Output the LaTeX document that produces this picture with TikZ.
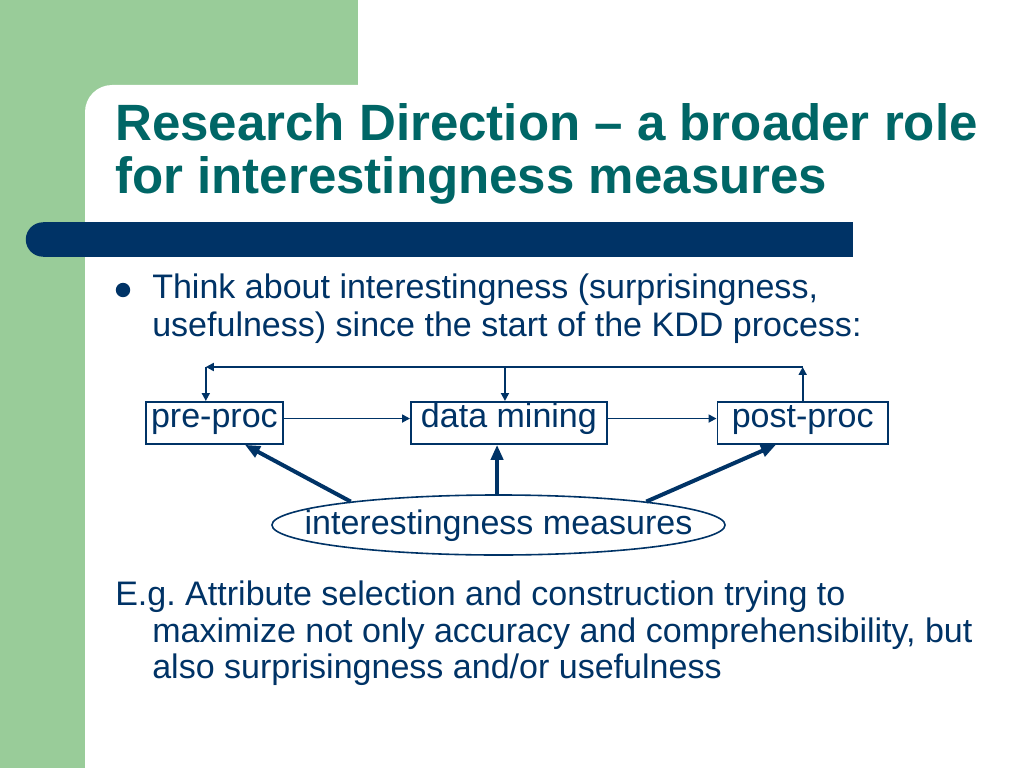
\documentclass[tikz,border=0pt]{standalone}
\usepackage{fontspec}
\setmainfont{Liberation Sans}
\usetikzlibrary{arrows.meta, calc, positioning, shapes.geometric}

\definecolor{slidegreen}{RGB}{153,204,153}
\definecolor{slidenavy}{RGB}{0,51,102}
\definecolor{slideteal}{RGB}{0,102,102}

\tikzset{
  titletext/.style={anchor=base west, inner sep=0pt, text=slideteal,
    font=\fontsize{36.3}{40}\selectfont\bfseries},
  bodytext/.style={anchor=base west, inner sep=0pt, text=slidenavy,
    font=\fontsize{24.2}{29}\selectfont},
  stagebox/.style={draw=slidenavy, line width=0.045cm, anchor=north west,
    inner sep=0pt, minimum height=1.05cm, text height=0.65cm, text depth=0.4cm,
    text=slidenavy, font=\fontsize{24.2}{29}\selectfont},
  measure/.style={draw=slidenavy, line width=0.04cm, ellipse, inner sep=0pt,
    minimum width=11.325cm, minimum height=1.5cm},
  flow/.style={draw=slidenavy, line width=0.045cm,
    -{Triangle[length=0.2cm, width=0.2cm]}},
  feed/.style={draw=slidenavy, line width=0.1cm,
    -{Triangle[length=0.375cm, width=0.3cm]}}
}

\begin{document}
\begin{tikzpicture}[x=0.025cm, y=-0.025cm]

  \useasboundingbox (0,0) rectangle (1024,768);
  \fill[white] (0,0) rectangle (1024,768);

  % green frame
  \fill[slidegreen] (0,0) rectangle (358,120);
  \fill[slidegreen] (0,0) rectangle (85,768);
  \fill[white, rounded corners=0.675cm] (85,85) rectangle (700,700);

  % title bar
  \fill[slidenavy] (43,239.5) circle[radius=0.43cm];
  \fill[slidenavy] (43,222) rectangle (853,257);

  \node[titletext] (title1) at (115,141) {Research Direction – a broader role};
  \node[titletext] (title2) at (115,193) {for interestingness measures};

  \fill[slidenavy] (123,290) circle[radius=0.18cm];
  \node[bodytext] (think1) at (152,298) {Think about interestingness (surprisingness,};
  \node[bodytext] (think2) at (152,336) {usefulness) since the start of the KDD process:};

  \node[stagebox, minimum width=3.425cm] (pre) at (145,401) {pre-proc};
  \node[stagebox, minimum width=4.9cm] (dm) at (410,401) {data mining};
  \node[stagebox, minimum width=4.2625cm] (post) at (716.5,401) {post-proc};

  \node[measure] (im) at (498.5,525) {};
  \node[bodytext, anchor=base] (imlabel) at ([yshift=-0.225cm]im.center) {interestingness measures};

  % forward flow
  \draw[flow] ($(pre.north east)!0.4!(pre.south east)$) -- ($(dm.north west)!0.4!(dm.south west)$);
  \draw[flow] ($(dm.north east)!0.4!(dm.south east)$) -- ($(post.north west)!0.4!(post.south west)$);

  % feedback loop
  \coordinate (loopR) at ([yshift=0.85cm]post.north);
  \coordinate (preIn) at ($(pre.north west)!0.438!(pre.north east)$);
  \coordinate (dmIn) at ($(dm.north west)!0.48!(dm.north east)$);
  \coordinate (loopL) at (preIn |- loopR);
  \coordinate (loopM) at (dmIn |- loopR);
  \draw[flow] (post.north) -- (loopR);
  \draw[flow] (loopR) -- (loopL);
  \draw[flow] (loopL) -- (preIn);
  \draw[flow] (loopM) -- (dmIn);

  % measures feed every stage
  \coordinate (dmOut) at ($(dm.south west)!0.44!(dm.south east)$);
  \draw[feed] (im.171) -- ($(pre.south west)!0.72!(pre.south east)$);
  \draw[feed] (im.north -| dmOut) -- (dmOut);
  \draw[feed] (im.9) -- ($(post.south west)!0.345!(post.south east)$);

  \node[bodytext] (eg1) at (115,605) {E.g.\ Attribute selection and construction trying to};
  \node[bodytext] (eg2) at (152,642) {maximize not only accuracy and comprehensibility, but};
  \node[bodytext] (eg3) at (152,678) {also surprisingness and/or usefulness};

\end{tikzpicture}
\end{document}
